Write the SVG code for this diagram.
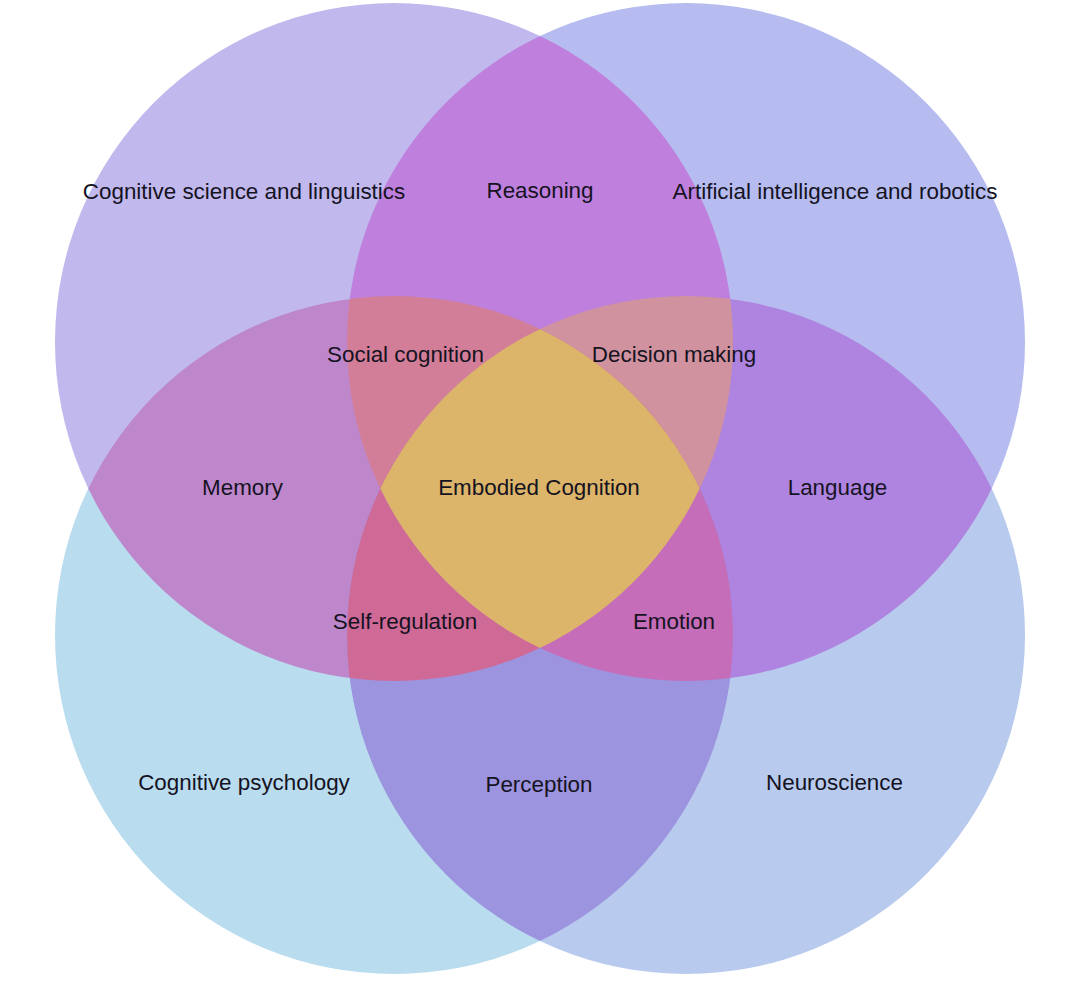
<svg xmlns="http://www.w3.org/2000/svg" width="1080" height="981" viewBox="0 0 1080 981">
<style>
  text { font-family: "Liberation Sans", Arial, sans-serif; font-size: 22.4px; fill: #15131f; text-anchor: middle; }
</style>
<defs>
  <circle id="tl" cx="394" cy="342" r="339"/>
  <circle id="tr" cx="686" cy="342" r="339"/>
  <circle id="bl" cx="394" cy="635" r="339"/>
  <circle id="br" cx="686" cy="635" r="339"/>
  <clipPath id="cTL"><use href="#tl"/></clipPath>
  <clipPath id="cTR"><use href="#tr"/></clipPath>
  <clipPath id="cBL"><use href="#bl"/></clipPath>
  <clipPath id="cBR"><use href="#br"/></clipPath>
</defs>
<rect width="1080" height="981" fill="#ffffff"/>
<g id="regions">
  <g id="single">
    <use href="#tl" fill="#c1b8ee"/>
    <use href="#tr" fill="#b6bcf0"/>
    <use href="#bl" fill="#b9dcef"/>
    <use href="#br" fill="#b8cbee"/>
  </g>
  <g id="pairs">
    <use href="#tr" fill="#bf7fdd" clip-path="url(#cTL)"/>
    <use href="#bl" fill="#bf87cb" clip-path="url(#cTL)"/>
    <use href="#br" fill="#af84e0" clip-path="url(#cTR)"/>
    <use href="#br" fill="#9c94df" clip-path="url(#cBL)"/>
  </g>
  <g id="triples">
    <g clip-path="url(#cTL)"><use href="#bl" fill="#d27e99" clip-path="url(#cTR)"/></g>
    <g clip-path="url(#cTL)"><use href="#br" fill="#d1929f" clip-path="url(#cTR)"/></g>
    <g clip-path="url(#cTL)"><use href="#br" fill="#cf6a97" clip-path="url(#cBL)"/></g>
    <g clip-path="url(#cTR)"><use href="#br" fill="#c56db8" clip-path="url(#cBL)"/></g>
  </g>
  <g id="quad">
    <g clip-path="url(#cTL)"><g clip-path="url(#cTR)"><use href="#br" fill="#dcb56b" clip-path="url(#cBL)"/></g></g>
  </g>
</g>
<g id="labels">
  <text x="244" y="199">Cognitive science and linguistics</text>
  <text x="540" y="198">Reasoning</text>
  <text x="835" y="199">Artificial intelligence and robotics</text>
  <text x="405.5" y="361.5">Social cognition</text>
  <text x="674" y="361.5">Decision making</text>
  <text x="242.5" y="495">Memory</text>
  <text x="539" y="495">Embodied Cognition</text>
  <text x="837.5" y="495">Language</text>
  <text x="405" y="629">Self-regulation</text>
  <text x="674" y="629">Emotion</text>
  <text x="244" y="790">Cognitive psychology</text>
  <text x="539" y="792">Perception</text>
  <text x="834.5" y="790">Neuroscience</text>
</g>
</svg>
